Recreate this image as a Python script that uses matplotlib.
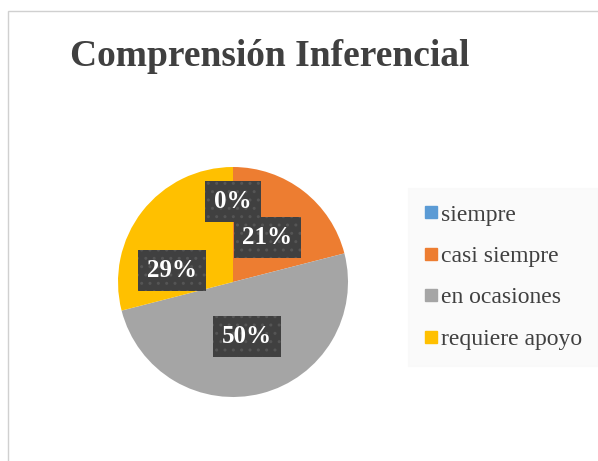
import numpy as np
import matplotlib.pyplot as plt
from matplotlib.patches import Rectangle
from matplotlib.lines import Line2D

# ------------------------------
# Datos
categorias = ["siempre", "casi siempre", "en ocasiones", "requiere apoyo"]
porcentajes = [0, 21, 50, 29]
etiquetas = ["0%", "21%", "50%", "29%"]
colores = ["#5B9BD5", "#ED7D31", "#A5A5A5", "#FFC000"]

# posicion radial de cada etiqueta (fraccion del radio) y desvio angular
radio_etq = [0.70, 0.49, 0.49, 0.54]
desvio_etq = [0, 0, 0, 27]

plt.rcParams['font.family'] = ['Liberation Serif', 'DejaVu Serif']
gris_texto = "#404040"

fig = plt.figure(figsize=(5.98, 4.61), dpi=100)
fig.patch.set_facecolor("white")

# borde del area del grafico
fig.patches.append(Rectangle((8 / 598, -0.1), 2, 1 - 11 / 461 + 0.1,
                             transform=fig.transFigure, fill=False,
                             edgecolor="#D0D0D0", linewidth=1))

fig.text(270 / 598, 1 - 56 / 461, "Comprensión Inferencial", ha="center",
         va="center", fontsize=27, fontweight="bold", color=gris_texto)

ax = fig.add_axes([118 / 598, 1 - 397 / 461, 230 / 598, 230 / 461])
cunas, _ = ax.pie(porcentajes, colors=colores, startangle=90, counterclock=False,
                  radius=1, wedgeprops=dict(linewidth=0))
ax.set_xlim(-1, 1)
ax.set_ylim(-1, 1)
ax.set_aspect("equal")
ax.axis("off")

# etiquetas de datos
for cuna, txt, r, d in zip(cunas, etiquetas, radio_etq, desvio_etq):
    ang = np.deg2rad((cuna.theta1 + cuna.theta2) / 2 + d)
    if cuna.theta2 - cuna.theta1 == 0:
        ang = np.deg2rad(90)
    ax.text(r * np.cos(ang), r * np.sin(ang), txt, ha="center", va="center",
            fontsize=18, fontweight="bold", color="white",
            bbox=dict(boxstyle="square,pad=0.35", facecolor="#404040",
                      edgecolor="#555555", hatch="..", linewidth=0))

# leyenda
manijas = [Line2D([], [], marker="s", linestyle="", markersize=8.5,
                  markerfacecolor=c, markeredgecolor=c) for c in colores]
ley = fig.legend(manijas, categorias, loc="center left",
                 bbox_to_anchor=(403 / 598, 1 - 277 / 461), frameon=True,
                 fontsize=17, labelcolor=gris_texto, handlelength=0.6,
                 handletextpad=0.1, labelspacing=0.84, borderpad=0.4)
ley.get_frame().set_facecolor("#F9F9F9")
ley.get_frame().set_edgecolor("#F9F9F9")
ley.get_frame().set_boxstyle("square")

fig.savefig("out.png", dpi=100)
